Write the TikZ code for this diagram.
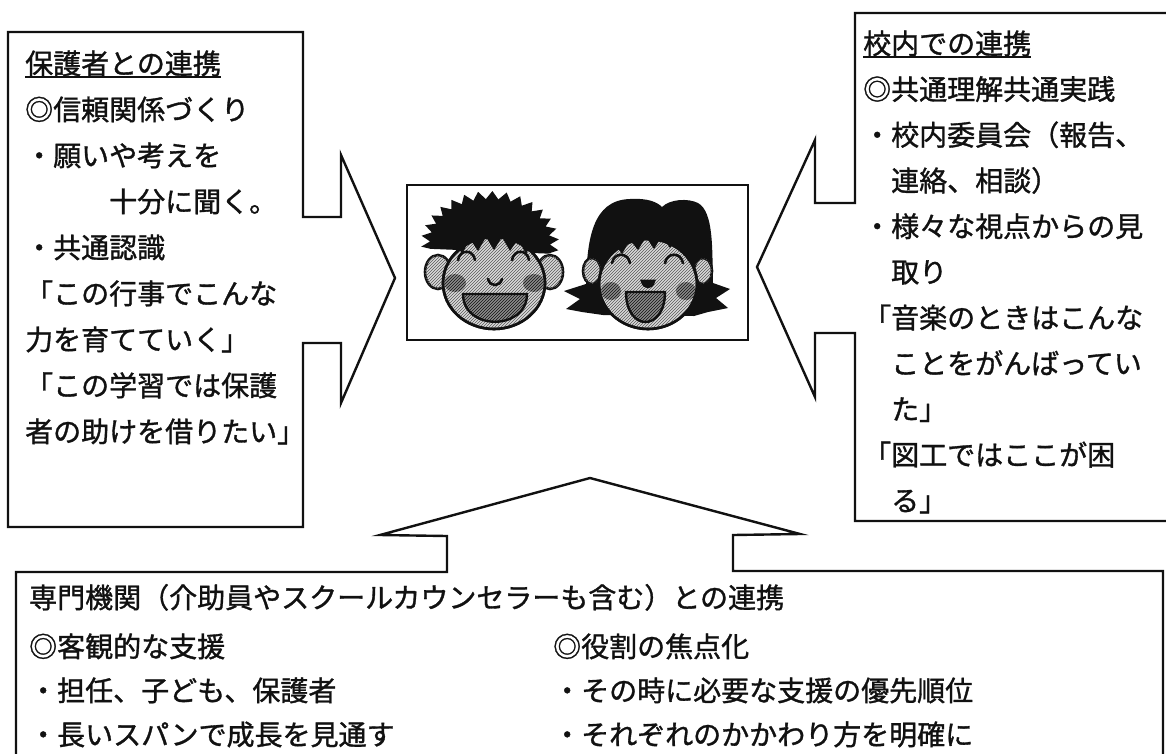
\documentclass[tikz,border=0pt]{standalone}
\usepackage{fontspec}
\setmainfont{Noto Sans CJK JP}[FakeBold=1.2]
\usepackage{tikz}
\usetikzlibrary{positioning,patterns}
\definecolor{Ink}{HTML}{111111}
\definecolor{Skin}{HTML}{DADADA}
\definecolor{Dark}{HTML}{8C8C8C}
\tikzset{
  callout/.style={draw=Ink, line width=2.4pt, line join=miter},
  % multi-line nodes: base anchor sits on the last line
  body/.style={anchor=base west, inner sep=0pt, align=left, text=Ink,
    font=\fontsize{28}{46}\selectfont},
  rule/.style={draw=Ink, line width=1.8pt},
  skin/.style={draw=Ink, line width=2.6pt, fill=Skin,
    postaction={pattern=north east lines, pattern color=Ink!70}},
  hair/.style={fill=Ink},
  feat/.style={draw=Ink, line width=2.6pt, line cap=round},
  mouth/.style={draw=Ink, line width=2.4pt, fill=Dark,
    postaction={pattern=north east lines, pattern color=Ink}},
  cheek/.style={fill=Dark, postaction={pattern=north east lines, pattern color=Ink}}
}

\begin{document}
\begin{tikzpicture}[x=1pt, y=-1pt]
  \useasboundingbox (0,0) rectangle (1166,753);
  \fill[white] (0,0) rectangle (1166,753);

  % three callouts pointing at the picture
  \draw[callout] (8,32) -- (303,32) -- (303,217) -- (341,217) -- (341,155)
    -- (395,278) -- (341,403) -- (341,343) -- (303,343) -- (303,527)
    -- (8,527) -- cycle;
  \draw[callout] (855,13) -- (1172,13) -- (1172,521) -- (855,521)
    -- (855,333) -- (815,333) -- (815,397) -- (757,267) -- (815,140)
    -- (815,203) -- (855,203) -- cycle;
  \draw[callout] (16,572) -- (447,572) -- (447,536) -- (380,535)
    -- (590,478) -- (800,534) -- (733,535) -- (733,571) -- (1163,571)
    -- (1163,760) -- (16,760) -- cycle;

  % picture frame
  \node[draw=Ink, line width=2pt, minimum width=341pt, minimum height=155pt,
    inner sep=0pt] (kids) at (577.5,262.5) {};

  % boy
  \begin{scope}[shift={(490,243)}]
    \fill[hair] (172:60 and 42) \foreach \a in {176,188,...,368}
      { -- (\a:69 and 52) -- ({\a+6}:60 and 44) } -- cycle;
  \end{scope}
  \path[skin] (438,272) ellipse (13 and 17);
  \path[skin] (550,272) ellipse (13 and 17);
  \path[skin] (494,283) ellipse (51 and 46);
  \begin{scope}
    \clip (494,283) ellipse (51 and 46);
    \fill[hair] (440,225) -- (440,276) -- (448,258) -- (456,243) -- (462,254)
      -- (470,239) -- (478,251) -- (486,237) -- (494,250) -- (502,237)
      -- (510,251) -- (518,239) -- (526,254) -- (532,243) -- (540,258)
      -- (548,276) -- (548,225) -- cycle;
    \path[cheek] (455,283) ellipse (11 and 9);
    \path[cheek] (534,283) ellipse (11 and 9);
  \end{scope}
  \draw[Ink, line width=2.6pt] (494,283) ellipse (51 and 46);
  \draw[feat] (458,260) .. controls (460,249) and (473,249) .. (475,260);
  \draw[feat] (512,260) .. controls (514,249) and (527,249) .. (529,260);
  \draw[feat] (488,279) .. controls (490,287) and (500,287) .. (502,279);
  \path[mouth] (463,294) -- (527,294) .. controls (527,331) and (463,331) .. cycle;

  % girl
  \fill[hair] (603,315) -- (582,312) -- (566,309) -- (580,299) -- (564,291)
    -- (586,284) .. controls (587,240) and (592,200) .. (630,199)
    .. controls (648,198) and (657,202) .. (662,207)
    .. controls (670,199) and (688,198) .. (698,203)
    .. controls (714,212) and (712,250) .. (713,283)
    -- (730,289) -- (716,298) -- (728,308) -- (708,312) -- (694,316) -- cycle;
  \path[skin] (592,271) ellipse (9 and 13);
  \path[skin] (703,271) ellipse (9 and 13);
  \path[skin] (648,284) ellipse (49 and 45);
  \begin{scope}
    \clip (648,284) ellipse (49 and 45);
    \fill[hair] (595,225) -- (595,292) -- (602,268) -- (608,252) -- (615,244)
      -- (622,254) -- (630,240) -- (638,250) -- (646,237) -- (654,249)
      -- (662,236) -- (670,248) -- (678,238) -- (686,252) -- (693,263)
      -- (700,292) -- (700,225) -- cycle;
    \path[cheek] (611,291) ellipse (10 and 9);
    \path[cheek] (686,291) ellipse (10 and 9);
  \end{scope}
  \draw[Ink, line width=2.6pt] (648,284) ellipse (49 and 45);
  \draw[feat] (612,263) .. controls (614,252) and (628,252) .. (630,263);
  \draw[feat] (665,263) .. controls (667,252) and (681,252) .. (683,263);
  \filldraw[feat, fill=Ink] (642,281) .. controls (644,289) and (652,289) .. (654,281) -- cycle;
  \path[mouth] (626,292) -- (665,292) .. controls (665,332) and (626,332) .. cycle;

  % texts
  \node[body] (parhead) at (25,74) {保護者との連携};
  \draw[rule] ([yshift=-3pt]parhead.base west) -- ([yshift=-3pt]parhead.base east);
  \node[body] (parbody) at ([yshift=-368pt]parhead.base west)
    {◎信頼関係づくり\\・願いや考えを\\　　　十分に聞く。\\・共通認識\\%
     「この行事でこんな\\力を育てていく」\\「この学習では保護\\者の助けを借りたい」};

  \node[body] (schhead) at (863,54) {校内での連携};
  \draw[rule] ([yshift=-3pt]schhead.base west) -- ([yshift=-3pt]schhead.base east);
  \node[body, font=\fontsize{28}{45.7}\selectfont] (schbody)
    at ([yshift=-457pt]schhead.base west)
    {◎共通理解共通実践\\・校内委員会（報告、\\　連絡、相談）\\・様々な視点からの見\\%
     　取り\\「音楽のときはこんな\\　ことをがんばってい\\　た」\\「図工ではここが困\\　る」};

  \node[body] (prohead) at (29,608)
    {専門機関（介助員やスクールカウンセラーも含む）との連携};
  \node[body, font=\fontsize{28}{44}\selectfont] (proleft) at (29,745)
    {◎客観的な支援\\・担任、子ども、保護者\\・長いスパンで成長を見通す};
  \node[body, font=\fontsize{28}{44}\selectfont] (proright) at (553,745)
    {◎役割の焦点化\\・その時に必要な支援の優先順位\\・それぞれのかかわり方を明確に};
\end{tikzpicture}
\end{document}
